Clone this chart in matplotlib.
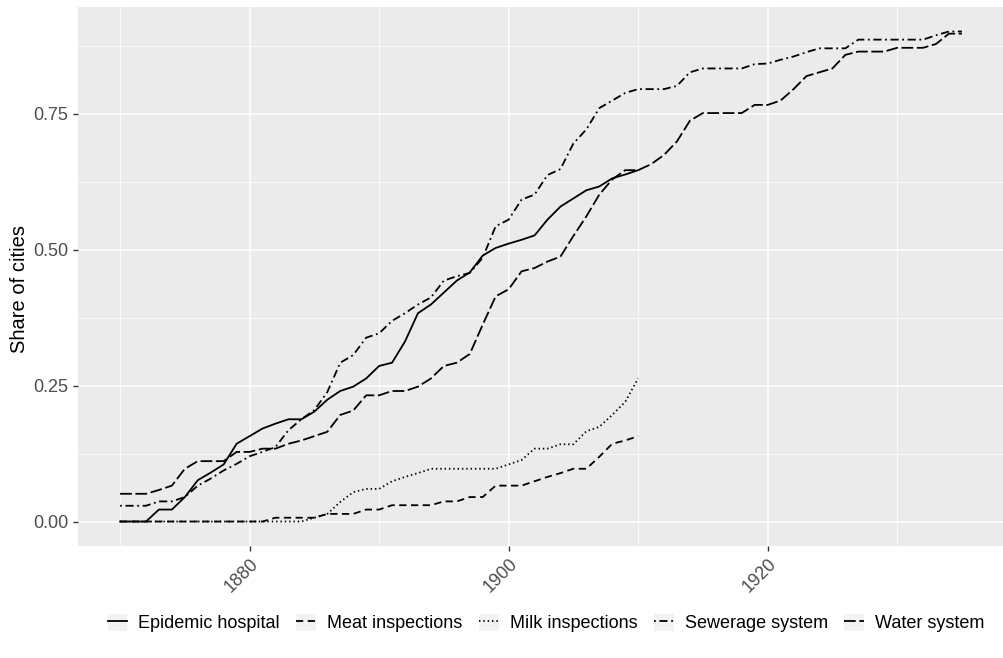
import matplotlib
matplotlib.use("Agg")
import matplotlib.pyplot as plt
from matplotlib.patches import Rectangle
from matplotlib.lines import Line2D
from matplotlib.legend_handler import HandlerTuple

plt.rcParams['font.family'] = ['Liberation Sans', 'DejaVu Sans']

# ---------------- data ----------------
years_short = list(range(1870, 1911))
years_long = list(range(1870, 1936))

epidemic_hospital = [0.000, 0.000, 0.000, 0.022, 0.022, 0.045, 0.076, 0.090, 0.105, 0.143,
                     0.157, 0.171, 0.180, 0.188, 0.188, 0.202, 0.224, 0.240, 0.248, 0.263,
                     0.286, 0.292, 0.331, 0.383, 0.399, 0.421, 0.443, 0.458, 0.489, 0.503,
                     0.511, 0.518, 0.526, 0.555, 0.579, 0.594, 0.609, 0.616, 0.631, 0.638,
                     0.646]

meat_inspections = [0.000, 0.000, 0.000, 0.000, 0.000, 0.000, 0.000, 0.000, 0.000, 0.000,
                    0.000, 0.000, 0.007, 0.007, 0.007, 0.007, 0.014, 0.014, 0.014, 0.022,
                    0.022, 0.030, 0.030, 0.030, 0.030, 0.037, 0.037, 0.045, 0.045, 0.066,
                    0.066, 0.066, 0.074, 0.082, 0.089, 0.097, 0.097, 0.119, 0.143, 0.149,
                    0.157]

milk_inspections = [0.000, 0.000, 0.000, 0.000, 0.000, 0.000, 0.000, 0.000, 0.000, 0.000,
                    0.000, 0.000, 0.000, 0.000, 0.000, 0.007, 0.014, 0.036, 0.054, 0.060,
                    0.060, 0.074, 0.082, 0.089, 0.097, 0.097, 0.097, 0.097, 0.097, 0.097,
                    0.105, 0.113, 0.134, 0.134, 0.142, 0.142, 0.166, 0.174, 0.196, 0.220,
                    0.263]

sewerage_system = [0.029, 0.029, 0.029, 0.037, 0.037, 0.045, 0.066, 0.079, 0.094, 0.106,
                   0.120, 0.128, 0.137, 0.168, 0.188, 0.205, 0.238, 0.292, 0.306, 0.338,
                   0.346, 0.369, 0.383, 0.399, 0.412, 0.443, 0.451, 0.457, 0.485, 0.543,
                   0.555, 0.592, 0.601, 0.637, 0.648, 0.695, 0.721, 0.760, 0.774, 0.788,
                   0.795, 0.795, 0.795, 0.801, 0.826, 0.833, 0.833, 0.833, 0.833, 0.841,
                   0.842, 0.849, 0.855, 0.863, 0.870, 0.870, 0.870, 0.886, 0.886, 0.886,
                   0.886, 0.886, 0.886, 0.894, 0.901, 0.901]

water_system = [0.051, 0.051, 0.051, 0.058, 0.066, 0.097, 0.111, 0.111, 0.111, 0.128,
                0.128, 0.134, 0.134, 0.143, 0.149, 0.157, 0.165, 0.196, 0.204, 0.232,
                0.232, 0.240, 0.240, 0.248, 0.263, 0.286, 0.292, 0.308, 0.362, 0.414,
                0.427, 0.460, 0.466, 0.478, 0.487, 0.525, 0.561, 0.601, 0.629, 0.646,
                0.646, 0.657, 0.674, 0.699, 0.737, 0.751, 0.751, 0.751, 0.751, 0.766,
                0.766, 0.774, 0.795, 0.819, 0.826, 0.833, 0.858, 0.864, 0.864, 0.864,
                0.871, 0.871, 0.871, 0.878, 0.897, 0.897]

labels = ["Epidemic hospital", "Meat inspections", "Milk inspections",
          "Sewerage system", "Water system"]

x_major = [1880, 1900, 1920]
x_minor = [1870, 1890, 1910, 1930]
y_major = [0.0, 0.25, 0.5, 0.75]
y_major_labels = ["0.00", "0.25", "0.50", "0.75"]
y_minor = [0.125, 0.375, 0.625, 0.875]

# ---------------- styles ----------------
LW = 1.3
styles = [
    dict(linestyle='-'),
    dict(linestyle=(0, (4, 2.5))),
    dict(linestyle=(0, (0.8, 1.6))),
    dict(linestyle=(0, (1, 2, 4.5, 2))),
    dict(linestyle=(0, (6.5, 2))),
]
series = [
    (years_short, epidemic_hospital),
    (years_short, meat_inspections),
    (years_short, milk_inspections),
    (years_long, sewerage_system),
    (years_long, water_system),
]

W, H = 1004, 658
fig = plt.figure(figsize=(W / 100, H / 100), dpi=100)
left, right, top, bottom = 78, 1004, 7, 546
ax = fig.add_axes([left / W, 1 - bottom / H, (right - left) / W, (bottom - top) / H])
ax.set_facecolor('#EBEBEB')
for s in ax.spines.values():
    s.set_visible(False)

handles = []
for (xs, ys), st, lab in zip(series, styles, labels):
    ax.plot(xs, ys, color='black', linewidth=LW, label=lab, **st)
    bg = Rectangle((0, 0), 1, 1, facecolor='#F2F2F2', edgecolor='none')
    lh = Line2D([], [], color='black', linewidth=LW, **st)
    handles.append((bg, lh))

ax.set_xlim(1866.75, 1938.25)
ax.set_ylim(-0.045, 0.946)
ax.set_xticks(x_major)
ax.set_xticks(x_minor, minor=True)
ax.set_yticks(y_major)
ax.set_yticklabels(y_major_labels)
ax.set_yticks(y_minor, minor=True)
ax.set_axisbelow(True)
ax.grid(which='major', color='white', linewidth=1.1)
ax.grid(which='minor', color='white', linewidth=0.55)
ax.tick_params(which='minor', length=0)
ax.tick_params(which='major', length=3.8, width=1.0, color='#333333',
               labelcolor='#4D4D4D', labelsize=13, pad=3)
for lbl in ax.get_xticklabels():
    lbl.set_rotation(45)
    lbl.set_ha('right')
    lbl.set_va('top')
    lbl.set_rotation_mode('anchor')

ax.set_ylabel("Share of cities", fontsize=14.5, color='black')
ax.yaxis.set_label_coords((29 - left) / (right - left), (bottom - 289) / (bottom - top))

leg = fig.legend(handles, labels, loc='center', ncol=5, frameon=False,
                 bbox_to_anchor=(546 / W, 1 - 623 / H), fontsize=13,
                 handler_map={tuple: HandlerTuple(ndivide=1, pad=0)},
                 handlelength=1.1, handleheight=1.1, handletextpad=0.6,
                 columnspacing=0.92)

fig.savefig("out.png", dpi=100)
